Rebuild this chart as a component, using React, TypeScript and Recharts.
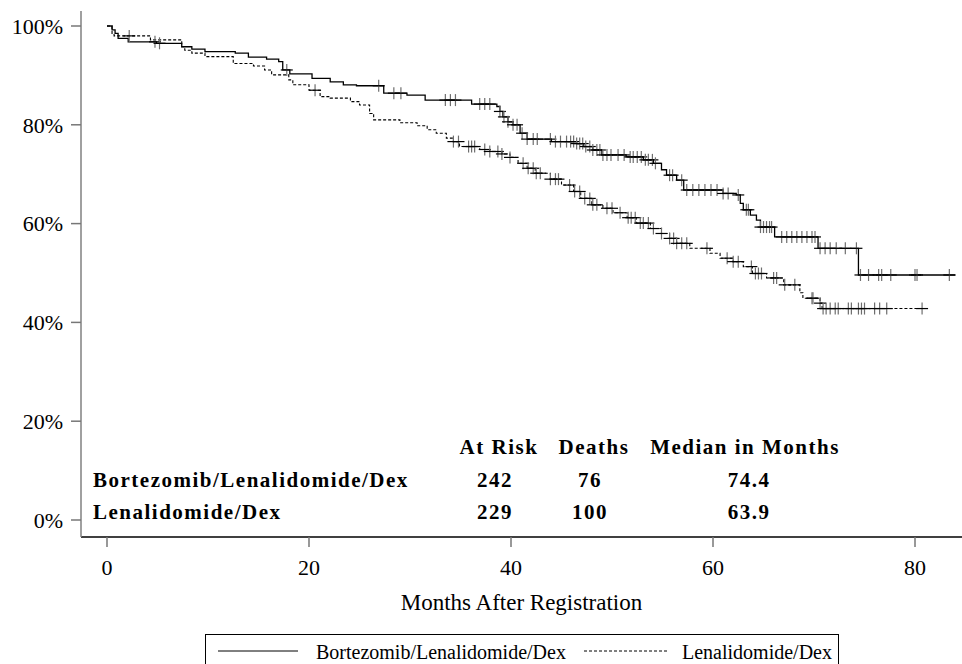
import React from "react";
import {
  ComposedChart,
  Line,
  Scatter,
  XAxis,
  YAxis,
} from "recharts";

// Kaplan-Meier steps (months, % alive)
const vrdMonths = [0, 0.5, 0.8, 1.1, 2.1, 4.9, 7.4, 8.4, 9.7, 12.7, 14.0, 15.8, 17.0, 17.4, 18.1, 20.3, 22.1, 23.4, 24.7, 27.4, 29.7, 31.5, 36.1, 38.6, 38.9, 39.2, 39.7, 40.2, 40.9, 41.6, 44.0, 46.5, 47.2, 48.1, 49.0, 51.4, 53.1, 54.1, 54.9, 55.4, 56.4, 57.1, 61.0, 62.3, 62.7, 63.0, 63.7, 64.3, 64.7, 66.1, 70.4, 74.4, 84.0];
const vrdSurvival = [100, 99.2, 98.5, 97.5, 96.8, 96.5, 95.8, 95.3, 94.8, 94.5, 93.7, 93.3, 92.8, 91.1, 90.3, 89.4, 88.7, 88.1, 87.9, 86.4, 86.0, 85.0, 84.2, 83.7, 82.7, 81.6, 80.6, 80.0, 78.3, 77.1, 76.6, 76.2, 75.6, 74.9, 73.9, 73.5, 72.9, 72.2, 70.9, 69.8, 68.8, 66.8, 66.1, 65.8, 64.1, 62.8, 61.7, 60.7, 59.3, 57.3, 55.0, 49.6, 49.6];

const rdMonths = [0, 0.5, 0.7, 4.3, 7.4, 7.7, 8.4, 9.7, 12.5, 14.5, 15.6, 16.3, 18.0, 18.4, 20.0, 21.1, 22.1, 24.1, 25.0, 26.0, 26.4, 29.0, 30.7, 31.7, 32.6, 33.6, 34.3, 34.9, 36.9, 37.9, 39.1, 39.9, 40.7, 41.6, 42.4, 43.9, 45.0, 46.2, 46.9, 48.0, 49.1, 50.1, 51.5, 52.4, 53.8, 54.9, 55.7, 56.4, 57.7, 59.7, 60.7, 62.0, 63.0, 63.9, 65.3, 67.0, 68.6, 68.9, 70.6, 70.8, 80.7];
const rdSurvival = [100, 98.5, 98.0, 97.2, 95.8, 95.1, 94.5, 93.8, 92.4, 91.9, 91.1, 90.1, 89.1, 88.1, 87.0, 85.7, 85.4, 84.7, 84.0, 82.3, 81.0, 80.4, 79.8, 79.0, 78.3, 77.3, 76.6, 75.6, 75.0, 74.6, 74.1, 73.4, 72.2, 71.2, 70.2, 69.0, 67.8, 66.5, 65.1, 63.8, 63.1, 62.2, 61.2, 60.1, 59.0, 58.0, 57.0, 56.0, 55.0, 54.0, 53.0, 52.3, 51.3, 49.9, 49.0, 47.6, 46.0, 44.9, 43.9, 42.8, 42.8];

// censoring times (months)
const vrdCensored = [4.75, 5.2, 17.8, 26.9, 28.4, 29.1, 33.5, 34.0, 34.5, 36.9, 37.4, 37.9, 38.9, 39.3, 39.7, 40.2, 40.6, 41.1, 41.6, 42.2, 42.6, 43.9, 44.4, 44.9, 45.5, 45.9, 46.2, 46.5, 46.8, 47.1, 47.4, 47.8, 48.1, 48.5, 48.8, 49.1, 49.5, 49.9, 50.6, 51.2, 51.8, 52.1, 52.5, 52.9, 53.3, 53.6, 54.0, 54.3, 55.7, 56.0, 56.9, 57.4, 58.0, 58.6, 59.2, 59.8, 60.4, 61.0, 61.5, 62.5, 63.3, 63.5, 64.7, 65.0, 65.3, 65.6, 65.8, 66.8, 67.3, 67.8, 68.3, 68.8, 69.3, 69.8, 70.1, 70.6, 71.1, 71.6, 72.2, 73.1, 74.2, 74.6, 75.4, 76.4, 76.7, 77.6, 80.0, 80.2, 83.4];
const rdCensored = [2.2, 20.6, 34.3, 34.8, 35.8, 36.1, 36.4, 37.4, 37.9, 38.7, 39.1, 39.9, 41.2, 41.7, 42.2, 42.5, 42.9, 43.9, 44.4, 44.7, 45.8, 46.3, 46.8, 47.3, 47.8, 48.1, 48.5, 49.5, 50.0, 50.8, 51.6, 51.9, 52.3, 52.8, 53.1, 53.6, 54.1, 54.9, 55.7, 56.1, 56.4, 56.9, 57.4, 59.4, 61.4, 62.0, 62.5, 63.8, 64.2, 64.5, 64.8, 66.0, 66.3, 67.1, 68.1, 69.8, 69.9, 70.6, 70.9, 71.2, 71.6, 72.1, 72.4, 73.4, 73.7, 74.4, 74.7, 75.0, 76.0, 76.5, 77.2, 80.7];

const xTicks = [0, 20, 40, 60, 80];
const yTicks = [0, 20, 40, 60, 80, 100];

const armNames = ["Bortezomib/Lenalidomide/Dex", "Lenalidomide/Dex"];
const tableHeaders = ["At Risk", "Deaths", "Median in Months"];
const atRisk = ["242", "229"];
const deaths = ["76", "100"];
const medians = ["74.4", "63.9"];

const toSteps = (months: number[], surv: number[]) =>
  months.map((t, i) => ({ t, s: surv[i] }));

const survivalAt = (months: number[], surv: number[], t: number) => {
  let s = surv[0];
  months.forEach((m, i) => {
    if (m <= t) s = surv[i];
  });
  return s;
};

const toCensors = (cens: number[], months: number[], surv: number[]) =>
  cens.map((t) => ({ t, s: survivalAt(months, surv, t) }));

const vrdData = toSteps(vrdMonths, vrdSurvival);
const rdData = toSteps(rdMonths, rdSurvival);
const vrdMarks = toCensors(vrdCensored, vrdMonths, vrdSurvival);
const rdMarks = toCensors(rdCensored, rdMonths, rdSurvival);

const serif = "'Liberation Serif', 'Times New Roman', serif";

const CensorMark = (props: any) => {
  const { cx, cy } = props;
  if (cx == null || cy == null) return null;
  return (
    <g>
      <line x1={cx} x2={cx} y1={cy - 6} y2={cy + 6} stroke="#6e6e6e" strokeWidth={1.2} />
      <line x1={cx - 6} x2={cx + 6} y1={cy} y2={cy} stroke="#000" strokeWidth={1.2} />
    </g>
  );
};

const boldText: React.CSSProperties = {
  position: "absolute",
  fontFamily: serif,
  fontWeight: "bold",
  fontSize: 21,
  letterSpacing: "1.5px",
  lineHeight: "21px",
  height: 21,
  whiteSpace: "nowrap",
  color: "#000",
};

const centered = (x: number, y: number): React.CSSProperties => ({
  ...boldText,
  left: x,
  top: y - 10.5,
  transform: "translateX(-50%)",
});

export default function App() {
  return (
    <div
      style={{
        position: "absolute",
        left: 0,
        top: 0,
        width: 962,
        height: 664,
        overflow: "hidden",
        background: "#fff",
      }}
    >
      <ComposedChart
        width={962}
        height={664}
        margin={{ top: 11, right: 0, left: 0, bottom: 87 }}
      >
        <XAxis
          type="number"
          dataKey="t"
          domain={[-2.574, 84.653]}
          allowDataOverflow
          ticks={xTicks}
          height={40}
          tickSize={10}
          tickMargin={12}
          axisLine={{ stroke: "#000", strokeWidth: 1.5 }}
          tickLine={{ stroke: "#777", strokeWidth: 1.5 }}
          tick={{ fontFamily: serif, fontSize: 22, fill: "#000" }}
          label={{
            value: "Months After Registration",
            position: "bottom",
            offset: 17,
            style: { fontFamily: serif, fontSize: 23, fill: "#000" },
          }}
        />
        <YAxis
          type="number"
          dataKey="s"
          domain={[-3.441, 103.036]}
          allowDataOverflow
          ticks={yTicks}
          width={81}
          tickSize={10}
          tickMargin={8}
          tickFormatter={(v) => `${v}%`}
          axisLine={{ stroke: "#808080", strokeWidth: 1.5 }}
          tickLine={{ stroke: "#777", strokeWidth: 1.5 }}
          tick={{ fontFamily: serif, fontSize: 22, fill: "#000" }}
        />
        <Line
          data={rdData}
          dataKey="s"
          type="stepAfter"
          stroke="#000"
          strokeWidth={1.1}
          strokeDasharray="3 2"
          dot={false}
          isAnimationActive={false}
        />
        <Line
          data={vrdData}
          dataKey="s"
          type="stepAfter"
          stroke="#000"
          strokeWidth={1.3}
          dot={false}
          isAnimationActive={false}
        />
        <Scatter data={rdMarks} dataKey="s" shape={CensorMark} isAnimationActive={false} />
        <Scatter data={vrdMarks} dataKey="s" shape={CensorMark} isAnimationActive={false} />
      </ComposedChart>

      {/* summary table */}
      <div style={centered(499, 447)}>{tableHeaders[0]}</div>
      <div style={centered(594, 447)}>{tableHeaders[1]}</div>
      <div style={centered(745, 447)}>{tableHeaders[2]}</div>
      {armNames.map((name, i) => (
        <React.Fragment key={name}>
          <div style={{ ...boldText, left: 93, top: 480 + i * 32 - 10.5 }}>{name}</div>
          <div style={centered(495, 480 + i * 32)}>{atRisk[i]}</div>
          <div style={centered(590, 480 + i * 32)}>{deaths[i]}</div>
          <div style={centered(749, 480 + i * 32)}>{medians[i]}</div>
        </React.Fragment>
      ))}

      {/* legend */}
      <div
        style={{
          position: "absolute",
          left: 205,
          top: 634,
          width: 632,
          height: 40,
          border: "1px solid #000",
          fontFamily: serif,
          fontSize: 20,
          color: "#000",
        }}
      >
        <svg
          width={632}
          height={30}
          style={{ position: "absolute", left: 0, top: 0 }}
        >
          <line x1={12} x2={92} y1={16} y2={16} stroke="#000" strokeWidth={1} />
          <line x1={378} x2={462} y1={16} y2={16} stroke="#000" strokeWidth={1} strokeDasharray="3 2" />
        </svg>
        <div style={{ position: "absolute", left: 110, top: 7, lineHeight: "20px", whiteSpace: "nowrap" }}>
          {armNames[0]}
        </div>
        <div style={{ position: "absolute", left: 476, top: 7, lineHeight: "20px", whiteSpace: "nowrap" }}>
          {armNames[1]}
        </div>
      </div>
    </div>
  );
}
